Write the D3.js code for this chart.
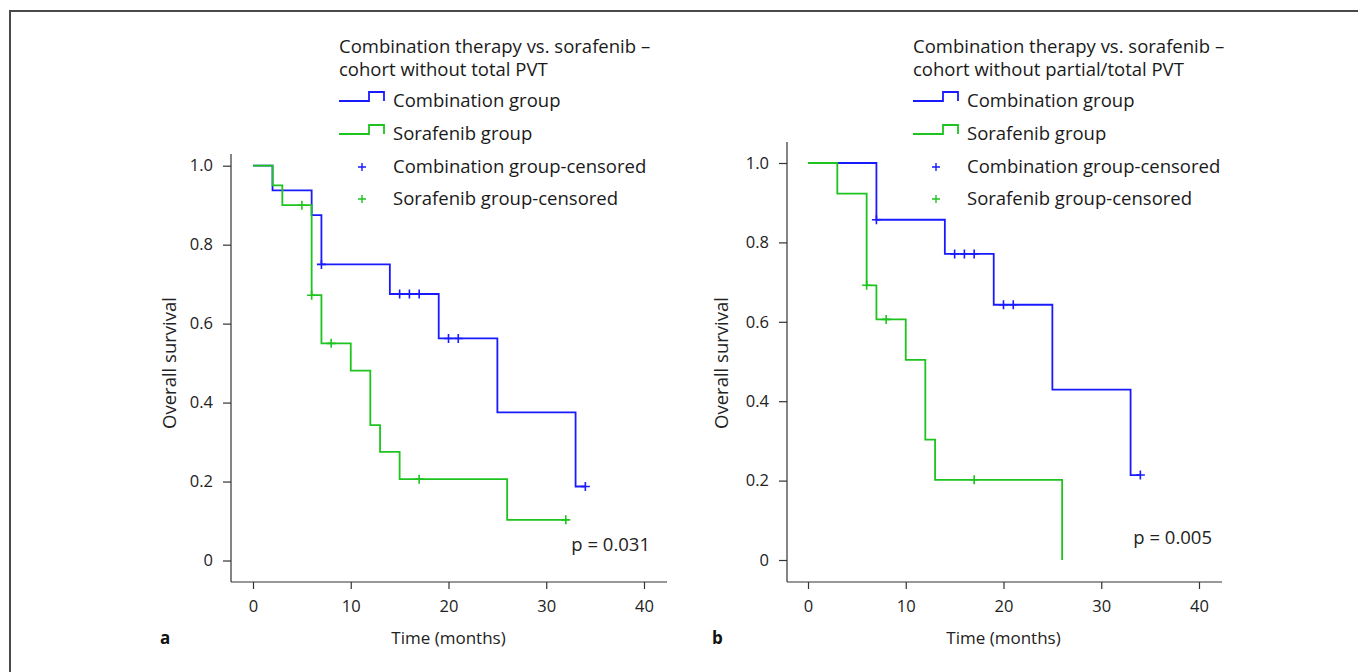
<!DOCTYPE html>
<html>
<head>
<meta charset="utf-8">
<script src="https://cdn.jsdelivr.net/npm/d3@7"></script>
<style>
  body { margin: 0; background: #fff; }
  svg { font-family: "Open Sans", "Noto Sans", sans-serif; }
</style>
</head>
<body>
<div id="chart"></div>
<script>
// panel a - cohort without total PVT
var aCombTimes = [0, 2, 6, 7, 14, 19, 25, 33, 34];
var aCombSurv  = [1, 0.9375, 0.875, 0.75, 0.675, 0.5625, 0.375, 0.1875, 0.1875];
var aCombCens  = [[7, 0.75], [15, 0.675], [16, 0.675], [17, 0.675], [20, 0.5625], [21, 0.5625], [34, 0.1875]];
var aSoraTimes = [0, 2, 3, 6, 7, 10, 12, 13, 15, 26, 32];
var aSoraSurv  = [1, 0.95, 0.9, 0.672, 0.55, 0.481, 0.343, 0.275, 0.206, 0.103, 0.103];
var aSoraCens  = [[5, 0.9], [6, 0.672], [8, 0.55], [17, 0.206], [32, 0.103]];

// panel b - cohort without partial/total PVT
var bCombTimes = [0, 7, 14, 19, 25, 33, 34];
var bCombSurv  = [1, 0.857, 0.771, 0.643, 0.429, 0.214, 0.214];
var bCombCens  = [[7, 0.857], [15, 0.771], [16, 0.771], [17, 0.771], [20, 0.643], [21, 0.643], [34, 0.214]];
var bSoraTimes = [0, 3, 6, 7, 10, 12, 13, 26];
var bSoraSurv  = [1, 0.923, 0.692, 0.606, 0.504, 0.303, 0.202, 0];
var bSoraCens  = [[6, 0.692], [8, 0.606], [17, 0.202]];

var xTicks = [0, 10, 20, 30, 40];
var yTicks = [0, 0.2, 0.4, 0.6, 0.8, 1.0];
var legendNames = ["Combination group", "Sorafenib group", "Combination group-censored", "Sorafenib group-censored"];

var blue = "#1a1aff", green = "#1ec41e";

var svg = d3.select("#chart").append("svg")
  .attr("width", 1358)
  .attr("height", 672);

// frame (top + left only)
svg.append("path")
  .attr("d", "M10,672 V11 H1358")
  .attr("fill", "none")
  .attr("stroke", "#4a4a4a")
  .attr("stroke-width", 2);

function zip(t, s) { return t.map(function(d, i) { return [d, s[i]]; }); }

function panel(cfg) {
  var x = d3.scaleLinear().domain([0, 40]).range([cfg.x0, cfg.x40]);
  var y = d3.scaleLinear().domain([0, 1]).range([cfg.y0, cfg.y1]);
  var g = svg.append("g");

  // axis lines
  g.append("line")
    .attr("x1", cfg.axisLeft).attr("x2", cfg.axisLeft)
    .attr("y1", cfg.axisTop).attr("y2", cfg.axisBottom)
    .attr("stroke", "#333").attr("stroke-width", 1.2);
  g.append("line")
    .attr("x1", cfg.axisLeft).attr("x2", cfg.axisRight)
    .attr("y1", cfg.axisBottom).attr("y2", cfg.axisBottom)
    .attr("stroke", "#333").attr("stroke-width", 1.2);

  var yAxis = g.append("g")
    .attr("transform", "translate(" + cfg.axisLeft + ",0)")
    .call(d3.axisLeft(y).tickValues(yTicks).tickSize(8).tickPadding(10)
      .tickFormat(function(d) { return d === 0 ? "0" : d3.format(".1f")(d); }));
  var xAxis = g.append("g")
    .attr("transform", "translate(0," + cfg.axisBottom + ")")
    .call(d3.axisBottom(x).tickValues(xTicks).tickSize(7).tickPadding(11));
  [xAxis, yAxis].forEach(function(a) {
    a.select(".domain").remove();
    a.selectAll("line").attr("stroke", "#333").attr("stroke-width", 1.2);
    a.selectAll("text").attr("font-size", 16.5).attr("fill", "#222")
      .attr("font-family", "\"Open Sans\", sans-serif");
  });

  var line = d3.line()
    .x(function(d) { return x(d[0]); })
    .y(function(d) { return y(d[1]); })
    .curve(d3.curveStepAfter);

  function curve(pts, cens, col) {
    g.append("path")
      .attr("d", line(pts))
      .attr("fill", "none")
      .attr("stroke", col)
      .attr("stroke-width", 1.8);
    g.selectAll(null).data(cens).enter().append("path")
      .attr("d", function(d) {
        var cx = x(d[0]), cy = y(d[1]);
        return "M" + (cx - 4.5) + "," + cy + "H" + (cx + 4.5) + "M" + cx + "," + (cy - 4.5) + "V" + (cy + 4.5);
      })
      .attr("stroke", col)
      .attr("stroke-width", 1.6);
  }
  curve(zip(cfg.combTimes, cfg.combSurv), cfg.combCens, blue);
  curve(zip(cfg.soraTimes, cfg.soraSurv), cfg.soraCens, green);

  // axis titles
  g.append("text")
    .attr("transform", "translate(" + cfg.yTitleX + ",363) rotate(-90)")
    .attr("text-anchor", "middle")
    .attr("dy", "0.35em")
    .attr("font-size", 18.5).attr("fill", "#222")
    .text("Overall survival");
  g.append("text")
    .attr("x", x(20)).attr("y", 638)
    .attr("text-anchor", "middle")
    .attr("dy", "0.35em")
    .attr("font-size", 17).attr("fill", "#222")
    .text("Time (months)");
  g.append("text")
    .attr("x", cfg.letterX).attr("y", 638)
    .attr("dy", "0.35em")
    .attr("font-size", 17).attr("font-weight", "bold").attr("fill", "#111")
    .text(cfg.letter);

  // p value
  g.append("text")
    .attr("x", cfg.pX).attr("y", cfg.pY)
    .attr("text-anchor", "end")
    .attr("dy", "0.35em")
    .attr("font-size", 18.5).attr("fill", "#222")
    .text(cfg.p);

  // legend
  var lx = cfg.legendX;
  var lg = g.append("g").attr("font-size", 18.5).attr("fill", "#1a1a1a");
  cfg.title.forEach(function(t, i) {
    lg.append("text").attr("x", lx).attr("y", 47 + i * 23).attr("dy", "0.35em").text(t);
  });
  var rowY = [101, 134, 167, 199];
  [blue, green].forEach(function(col, i) {
    var yy = rowY[i];
    lg.append("path")
      .attr("d", "M" + lx + "," + yy + "H" + (lx + 30) + "V" + (yy - 9) + "H" + (lx + 45) + "V" + yy)
      .attr("fill", "none").attr("stroke", col).attr("stroke-width", 1.8);
  });
  [blue, green].forEach(function(col, i) {
    var yy = rowY[i + 2], cx = lx + 23;
    lg.append("path")
      .attr("d", "M" + (cx - 4) + "," + yy + "H" + (cx + 4) + "M" + cx + "," + (yy - 4) + "V" + (yy + 4))
      .attr("stroke", col).attr("stroke-width", 1.4);
  });
  legendNames.forEach(function(n, i) {
    lg.append("text").attr("x", lx + 54).attr("y", rowY[i]).attr("dy", "0.35em").text(n);
  });
}

panel({
  x0: 253, x40: 644, y0: 560.5, y1: 165.7,
  axisLeft: 231, axisRight: 667, axisTop: 154, axisBottom: 582,
  combTimes: aCombTimes, combSurv: aCombSurv, combCens: aCombCens,
  soraTimes: aSoraTimes, soraSurv: aSoraSurv, soraCens: aSoraCens,
  yTitleX: 170, letterX: 160, letter: "a",
  pX: 650, pY: 545, p: "p = 0.031",
  legendX: 339,
  title: ["Combination therapy vs. sorafenib \u2013", "cohort without total PVT"]
});

panel({
  x0: 808, x40: 1199, y0: 560, y1: 163,
  axisLeft: 787, axisRight: 1222, axisTop: 142, axisBottom: 582,
  combTimes: bCombTimes, combSurv: bCombSurv, combCens: bCombCens,
  soraTimes: bSoraTimes, soraSurv: bSoraSurv, soraCens: bSoraCens,
  yTitleX: 722, letterX: 712, letter: "b",
  pX: 1212, pY: 538, p: "p = 0.005",
  legendX: 913,
  title: ["Combination therapy vs. sorafenib \u2013", "cohort without partial/total PVT"]
});
</script>
</body>
</html>
